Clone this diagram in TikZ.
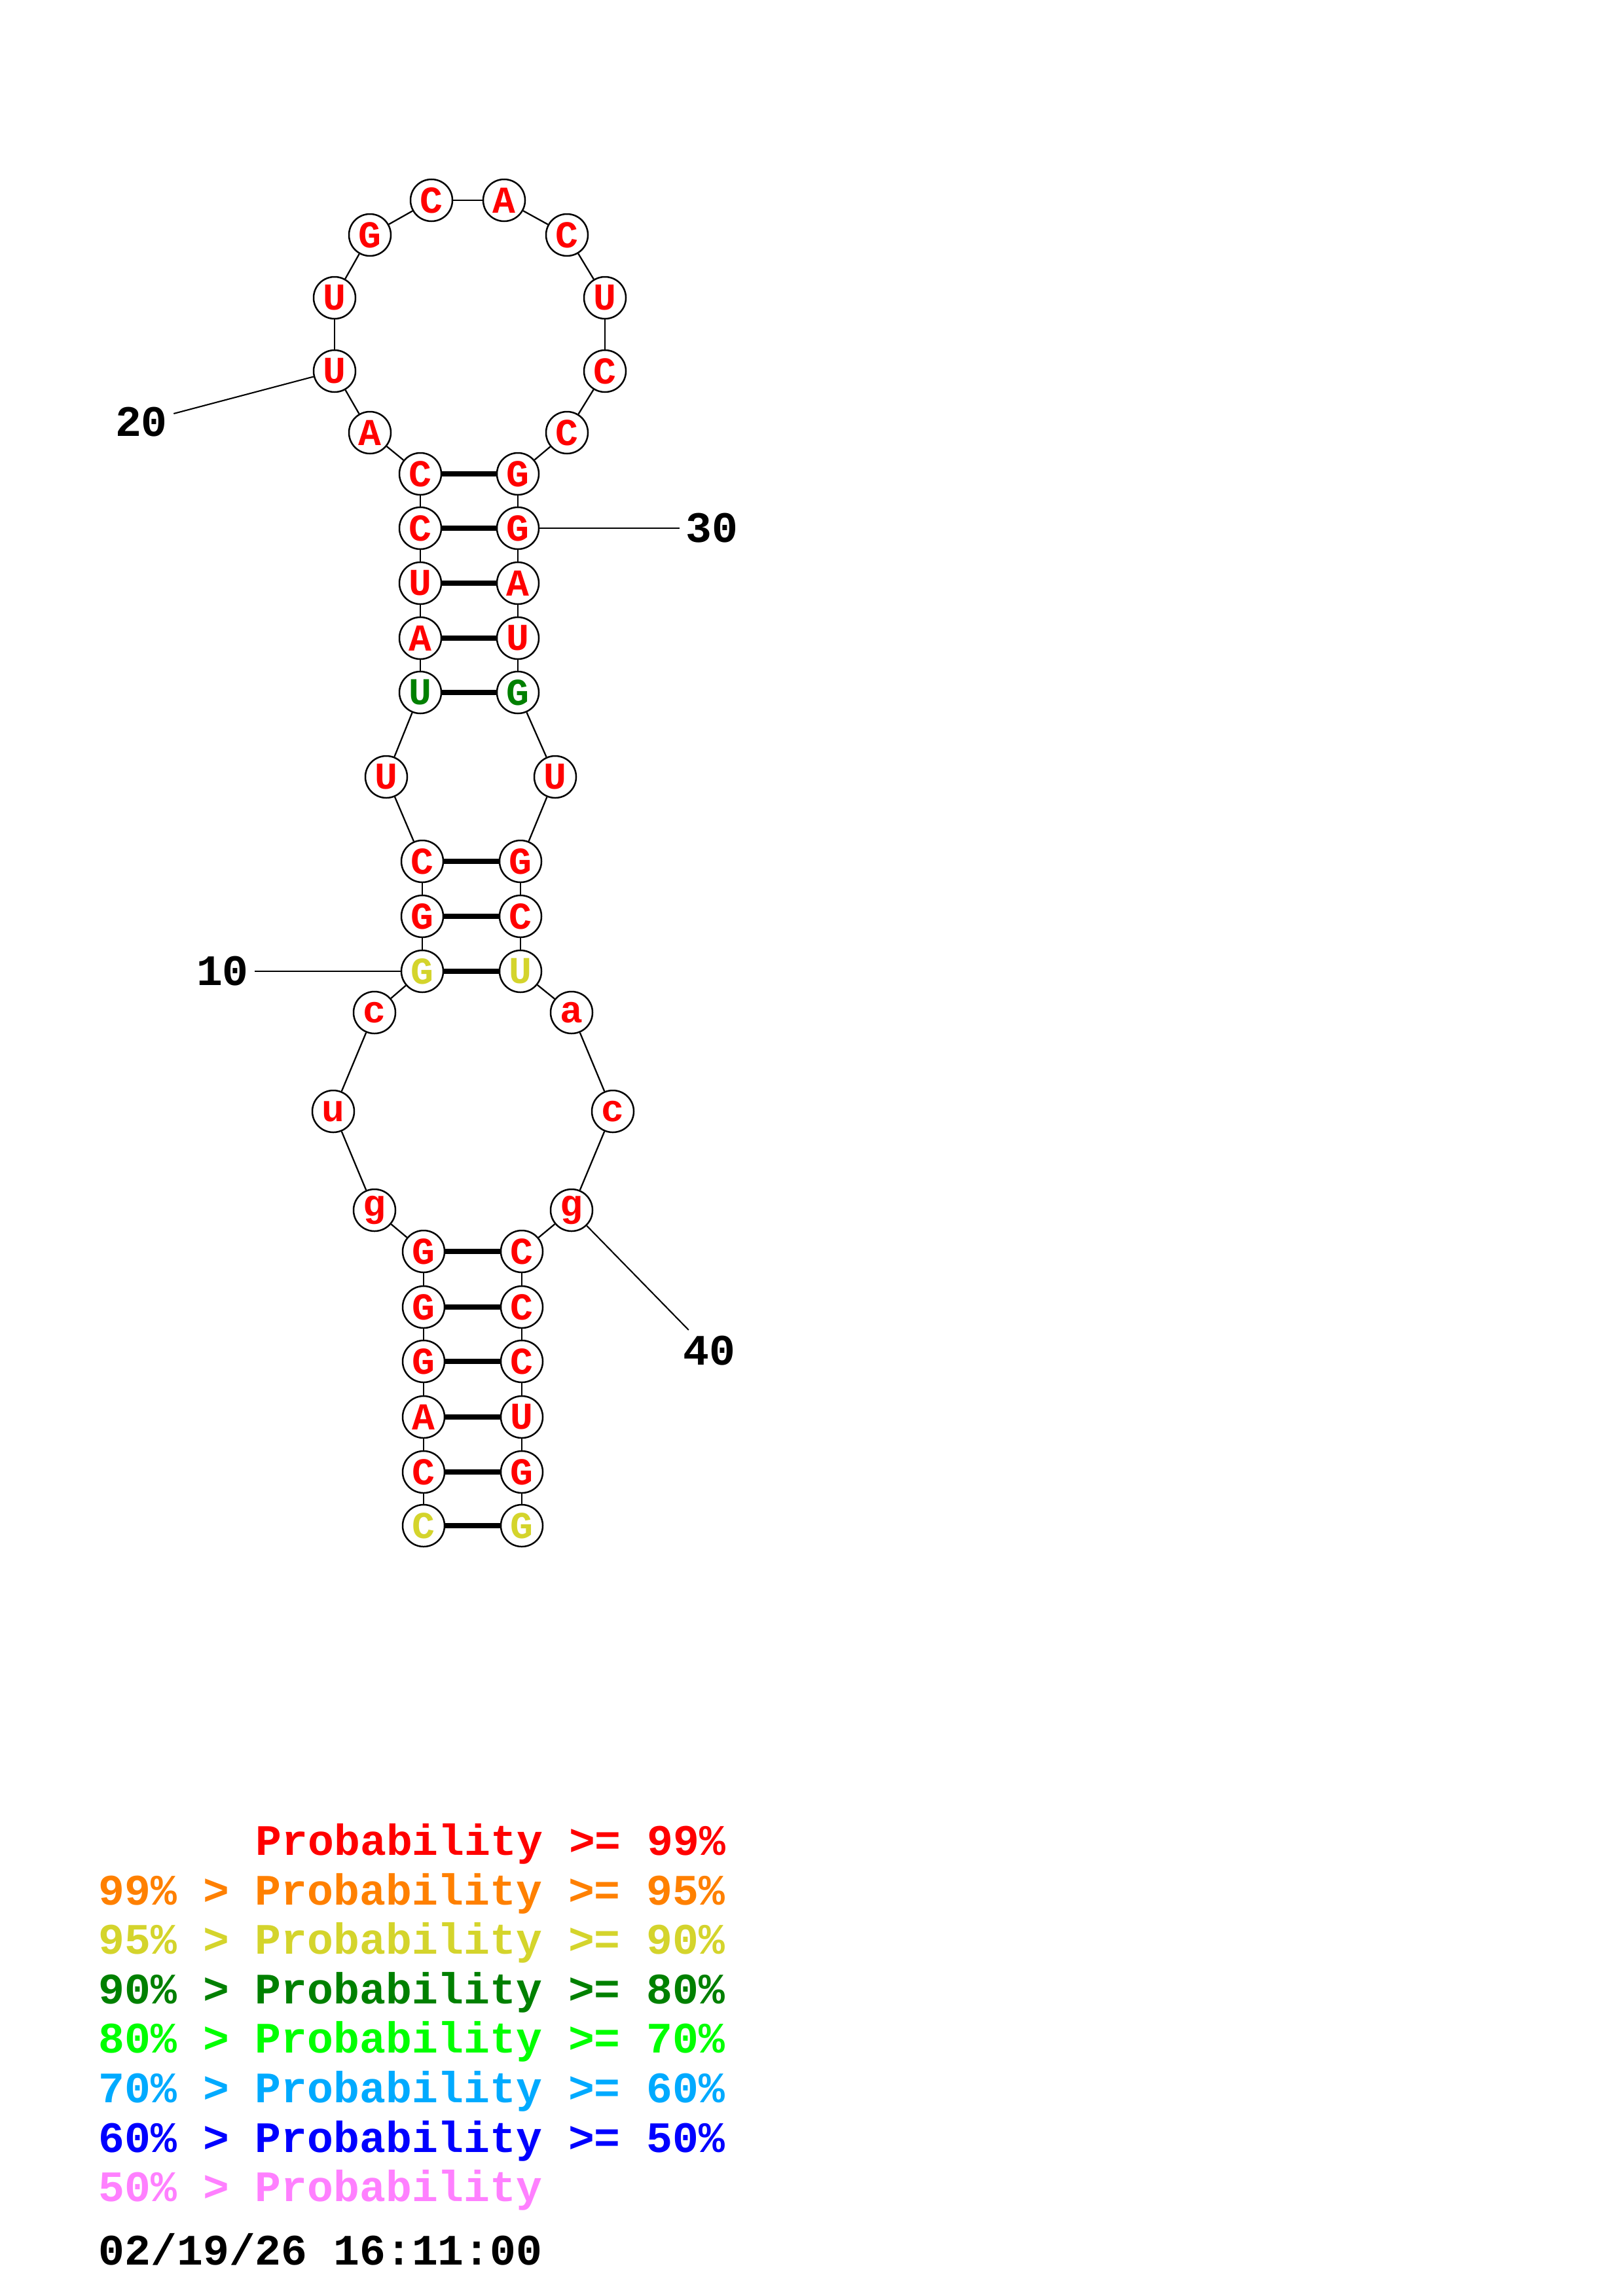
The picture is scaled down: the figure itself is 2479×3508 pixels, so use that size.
\documentclass[tikz,border=0pt]{standalone}
\usepackage{fontspec}
\setmonofont{Liberation Mono}
\usepackage{xcolor}
\definecolor{prob99}{HTML}{FF0000}
\definecolor{prob95}{HTML}{FF8000}
\definecolor{prob90}{HTML}{D4D42C}
\definecolor{prob80}{HTML}{008000}
\definecolor{prob70}{HTML}{00FF00}
\definecolor{prob60}{HTML}{00AAFF}
\definecolor{prob50}{HTML}{0000FF}
\definecolor{probless}{HTML}{FF80FF}

\begin{document}
\begin{tikzpicture}[
    x=0.0846667mm, y=-0.0846667mm,
    base/.style={circle, draw, fill=white, line width=0.6pt, minimum size=5.42mm,
                 inner sep=0pt, text=#1,
                 font=\ttfamily\bfseries\fontsize{14}{14}\selectfont},
    backbone/.style={draw, line width=0.55pt},
    pair/.style={draw, line width=1.8pt},
    leader/.style={draw, line width=0.5pt},
    numlabel/.style={inner sep=0.8mm, outer sep=0pt,
                     font=\ttfamily\bfseries\fontsize{16}{16}\selectfont},
    legend/.style={anchor=base west, inner sep=0pt, text=#1,
                   font=\ttfamily\bfseries\fontsize{16}{16}\selectfont},
]
\useasboundingbox (0,0) rectangle (2479,3508);

% Basen: nummer/x/y/buchstabe/farbe
\foreach \n/\x/\y/\b/\c in {
    1/647/2331/C/prob90,  2/647/2249/C/prob99,  3/647/2165/A/prob99,
    4/647/2080/G/prob99,  5/647/1997/G/prob99,  6/647/1912/G/prob99,
    7/572/1849/g/prob99,  8/509/1698/u/prob99,  9/572/1547/c/prob99,
    10/645/1484/G/prob90, 11/645/1400/G/prob99, 12/645/1316/C/prob99,
    13/590/1187/U/prob99, 14/642/1058/U/prob80, 15/642/975/A/prob99,
    16/642/891/U/prob99,  17/642/807/C/prob99,  18/642/724/C/prob99,
    19/565/661/A/prob99,  20/511/567/U/prob99,  21/511/455/U/prob99,
    22/565/359/G/prob99,  23/659/306/C/prob99,  24/770/306/A/prob99,
    25/866/359/C/prob99,  26/924/455/U/prob99,  27/924/567/C/prob99,
    28/866/661/C/prob99,  29/791/724/G/prob99,  30/791/807/G/prob99,
    31/791/891/A/prob99,  32/791/975/U/prob99,  33/791/1058/G/prob80,
    34/848/1187/U/prob99, 35/795/1316/G/prob99, 36/795/1400/C/prob99,
    37/795/1484/U/prob90, 38/873/1547/a/prob99, 39/936/1698/c/prob99,
    40/873/1849/g/prob99, 41/797/1912/C/prob99, 42/797/1997/C/prob99,
    43/797/2080/C/prob99, 44/797/2165/U/prob99, 45/797/2249/G/prob99,
    46/797/2331/G/prob90}
    \node[base=\c] (n\n) at (\x,\y) {\b};

% Rueckgrat
\foreach \i [count=\j from 2] in {1,...,45}
    \draw[backbone] (n\i) -- (n\j);

% Basenpaare
\foreach \a/\b in {1/46, 2/45, 3/44, 4/43, 5/42, 6/41, 10/37, 11/36, 12/35,
                   14/33, 15/32, 16/31, 17/30, 18/29}
    \draw[pair] (n\a) -- (n\b);

% Nummern
\node[numlabel] (l10) at (340,1484) {10};
\node[numlabel] (l20) at (216,645) {20};
\node[numlabel] (l30) at (1087,807) {30};
\node[numlabel] (l40) at (1083,2064) {40};
\draw[leader] (l10) -- (n10);
\draw[leader] (l20) -- (n20);
\draw[leader] (n30) -- (l30);
\draw[leader] (n40) -- (l40);

% Legende
\node[legend=prob99] (leg99) at (390,2834) {Probability >= 99\%};
\node[legend=prob95] (leg95) at (150,2910) {99\% > Probability >= 95\%};
\node[legend=prob90] (leg90) at (150,2985) {95\% > Probability >= 90\%};
\node[legend=prob80] (leg80) at (150,3061) {90\% > Probability >= 80\%};
\node[legend=prob70] (leg70) at (150,3136) {80\% > Probability >= 70\%};
\node[legend=prob60] (leg60) at (150,3212) {70\% > Probability >= 60\%};
\node[legend=prob50] (leg50) at (150,3288) {60\% > Probability >= 50\%};
\node[legend=probless] (legless) at (150,3363) {50\% > Probability};
\node[legend=black] (date) at (150,3460) {02/19/26 16:11:00};

\end{tikzpicture}
\end{document}
